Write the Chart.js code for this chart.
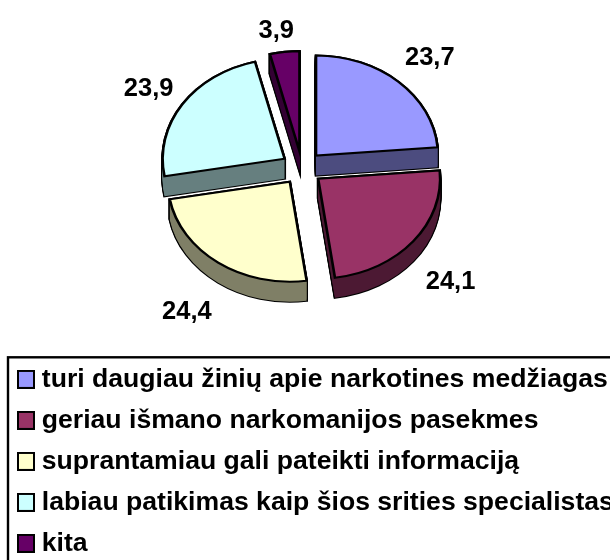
<!DOCTYPE html>
<html>
<head>
<meta charset="utf-8">
<style>html,body{margin:0;padding:0;background:#fff}#wrap{width:610px;height:560px}</style>
<script src="https://cdn.jsdelivr.net/npm/chart.js@4"></script>
</head>
<body>
<div id="wrap"><canvas id="c" width="610" height="560"></canvas></div>
<script>
const categories = [
  'turi daugiau žinių apie narkotines medžiagas',
  'geriau išmano narkomanijos pasekmes',
  'suprantamiau gali pateikti informaciją',
  'labiau patikimas kaip šios srities specialistas',
  'kita'
];
const values = [23.7, 24.1, 24.4, 23.9, 3.9];
const topColors = ['#9999FF', '#993366', '#FFFFCC', '#CCFFFF', '#660066'];
const wallColors = ['#4C4C7F', '#4C1933', '#7F7F66', '#667F7F', '#330033'];

const FONT = '"Liberation Sans", Arial, sans-serif';
const TILT = 0.82, DEPTH = 20, EXPLODE = 20.7, CENTER_X = 302, CENTER_Y = 168, RADIUS = 122;
const DRAW_ORDER = [4, 3, 0, 2, 1];
const LABEL_R = [166, 181, 187, 162, 151];
const LABEL_TURN = [0.6, 4.3, -2.6, 0, -1.8];
const LABEL_DROP = 2;

function swatch(color) {
  const s = document.createElement('canvas');
  s.width = 24; s.height = 19;
  const g = s.getContext('2d');
  g.fillStyle = color; g.fillRect(2, 1, 16, 17);
  g.strokeStyle = '#000'; g.lineWidth = 2; g.strokeRect(2, 1, 16, 17);
  return s;
}

const pie3d = {
  id: 'pie3d',
  beforeDatasetsDraw(chart) {
    const ctx = chart.ctx;
    const arcs = chart.getDatasetMeta(0).data;
    const place = (arc, d) => {
      const mid = (arc.startAngle + arc.endAngle) / 2;
      ctx.translate(CENTER_X, CENTER_Y + d);
      ctx.scale(1, TILT);
      ctx.translate(-arc.x, -arc.y);
      ctx.translate(Math.cos(mid) * EXPLODE, Math.sin(mid) * EXPLODE);
    };
    const paint = (arc, d, fill, stroke, width) => {
      const saved = arc.options;
      arc.options = Object.assign({}, saved, {backgroundColor: fill, borderColor: stroke, borderWidth: width, borderJoinStyle: 'miter'});
      ctx.save(); place(arc, d); arc.draw(ctx); ctx.restore();
      arc.options = saved;
    };
    DRAW_ORDER.forEach(i => {
      const arc = arcs[i];
      for (let d = 0; d <= DEPTH; d++) paint(arc, d, '#000', '#000', 2.6);
      for (let d = 0; d <= DEPTH; d++) paint(arc, d, wallColors[i], wallColors[i], 0);
      paint(arc, 0, topColors[i], '#000', 2.6);
    });
    ctx.save();
    ctx.fillStyle = '#000';
    ctx.font = 'bold 25.5px ' + FONT;
    ctx.textAlign = 'center';
    ctx.textBaseline = 'middle';
    arcs.forEach((arc, i) => {
      const mid = (arc.startAngle + arc.endAngle) / 2;
      const a = mid + LABEL_TURN[i] * Math.PI / 180;
      const x = CENTER_X + Math.cos(mid) * EXPLODE + Math.cos(a) * LABEL_R[i];
      const y = CENTER_Y + LABEL_DROP + (Math.sin(mid) * EXPLODE + Math.sin(a) * LABEL_R[i]) * TILT;
      ctx.fillText(values[i].toFixed(1).replace('.', ','), x, y);
    });
    ctx.restore();
    return false;
  },
  afterDraw(chart) {
    const ctx = chart.ctx;
    ctx.save();
    ctx.strokeStyle = '#000';
    ctx.lineWidth = 2.4;
    ctx.strokeRect(8, 357.3, 800, 400);
    ctx.restore();
  }
};

new Chart(document.getElementById('c'), {
  type: 'pie',
  plugins: [pie3d],
  data: {
    labels: categories,
    datasets: [{data: values, backgroundColor: topColors, borderColor: '#000', borderWidth: 2}]
  },
  options: {
    responsive: false,
    animation: false,
    radius: RADIUS,
    layout: {padding: {left: 13.1, right: 0, top: 0, bottom: -6.7}},
    plugins: {
      tooltip: {enabled: false},
      legend: {
        position: 'bottom',
        align: 'start',
        labels: {
          color: '#000',
          font: {family: FONT, size: 26.6, weight: 'bold'},
          usePointStyle: true,
          pointStyleWidth: 1,
          padding: 14.4,
          generateLabels(chart) {
            return categories.map((t, i) => ({text: t, index: i, pointStyle: swatch(topColors[i]), fillStyle: topColors[i], strokeStyle: '#000', lineWidth: 2, hidden: false}));
          }
        }
      }
    }
  }
});
</script>
</body>
</html>
